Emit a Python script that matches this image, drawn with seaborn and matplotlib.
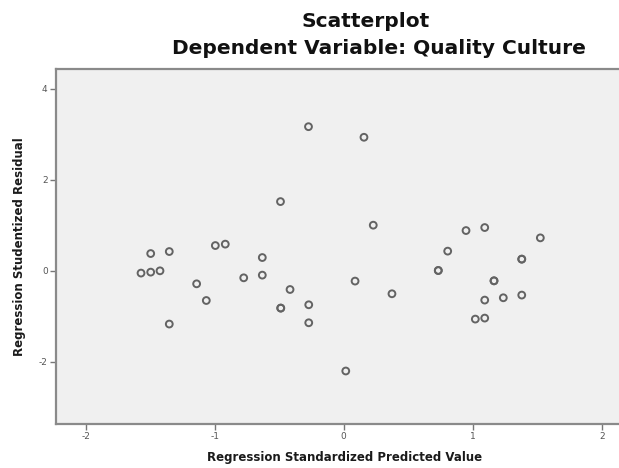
import numpy as np
import matplotlib
matplotlib.use("Agg")
import matplotlib.pyplot as plt
import seaborn as sns
import pandas as pd

# values (duplicates = overlapping points)
predicted = [-1.496, -1.352, -1.571, -1.496, -1.424, -1.352, -1.140, -1.065,
             -0.995, -0.918, -0.775, -0.631, -0.631, -0.416, -0.488, -0.488,
             -0.271, -0.271, -0.273, -0.490, 0.157, 0.229, 0.016, 0.088,
             0.374, 0.733, 0.733, 0.806, 0.948, 1.093, 1.524, 1.380, 1.380,
             1.165, 1.165, 1.093, 1.237, 1.380, 1.020, 1.093]
residual = [0.38, 0.424, -0.05, -0.029, 0.0, -1.171, -0.286, -0.653,
            0.556, 0.587, -0.154, 0.292, -0.095, -0.411, -0.82, -0.82,
            -0.747, -1.143, 3.171, 1.523, 2.938, 1.004, -2.204, -0.226,
            -0.505, 0.007, 0.007, 0.433, 0.886, 0.952, 0.725, 0.257, 0.257,
            -0.22, -0.22, -0.644, -0.593, -0.534, -1.062, -1.04]
x_ticks = [-2, -1, 0, 1, 2]
y_ticks = [-2, 0, 2, 4]

df = pd.DataFrame({"pred": predicted, "resid": residual})

sns.set_style("white")
plt.rcParams["font.family"] = ["DejaVu Sans"]
plt.rcParams["axes.unicode_minus"] = False

fig = plt.figure(figsize=(6.19, 4.68), dpi=100)
ax = fig.add_axes([56 / 619, 44 / 468, 578 / 619, 355 / 468])
ax.set_facecolor("#f0f0f0")

sns.scatterplot(data=df, x="pred", y="resid", ax=ax, marker="o", s=24,
                facecolor="none", edgecolor="#636363", linewidth=1.4)

ax.set_xlim(-2.23, 2.25)
ax.set_ylim(-3.37, 4.44)
ax.set_xticks(x_ticks)
ax.set_yticks(y_ticks)
ax.tick_params(axis="both", direction="out", length=4, width=1, color="#777777",
               labelsize=6.5, labelcolor="#555555", pad=2,
               bottom=True, left=True)
for side in ["left", "bottom", "top", "right"]:
    ax.spines[side].set_color("#8a8a8a")
    ax.spines[side].set_linewidth(1.6)

ax.set_xlabel("Regression Standardized Predicted Value", fontsize=8.5,
              fontweight="bold", color="#1a1a1a", va="center")
ax.set_ylabel("Regression Studentized Residual", fontsize=8.5,
              fontweight="bold", color="#1a1a1a", va="center")
ax.xaxis.set_label_coords((345 - 56) / 578, -(457 - 424) / 355)
ax.yaxis.set_label_coords(-(56 - 20) / 578, 0.5)

fig.text(366 / 619, 1 - 27 / 468, "Scatterplot", ha="center", va="baseline",
         fontsize=14.5, fontweight="bold", color="#111111")
fig.text(379 / 619, 1 - 54 / 468, "Dependent Variable: Quality Culture",
         ha="center", va="baseline", fontsize=14.5, fontweight="bold",
         color="#111111")

fig.savefig("out.png", dpi=100)
